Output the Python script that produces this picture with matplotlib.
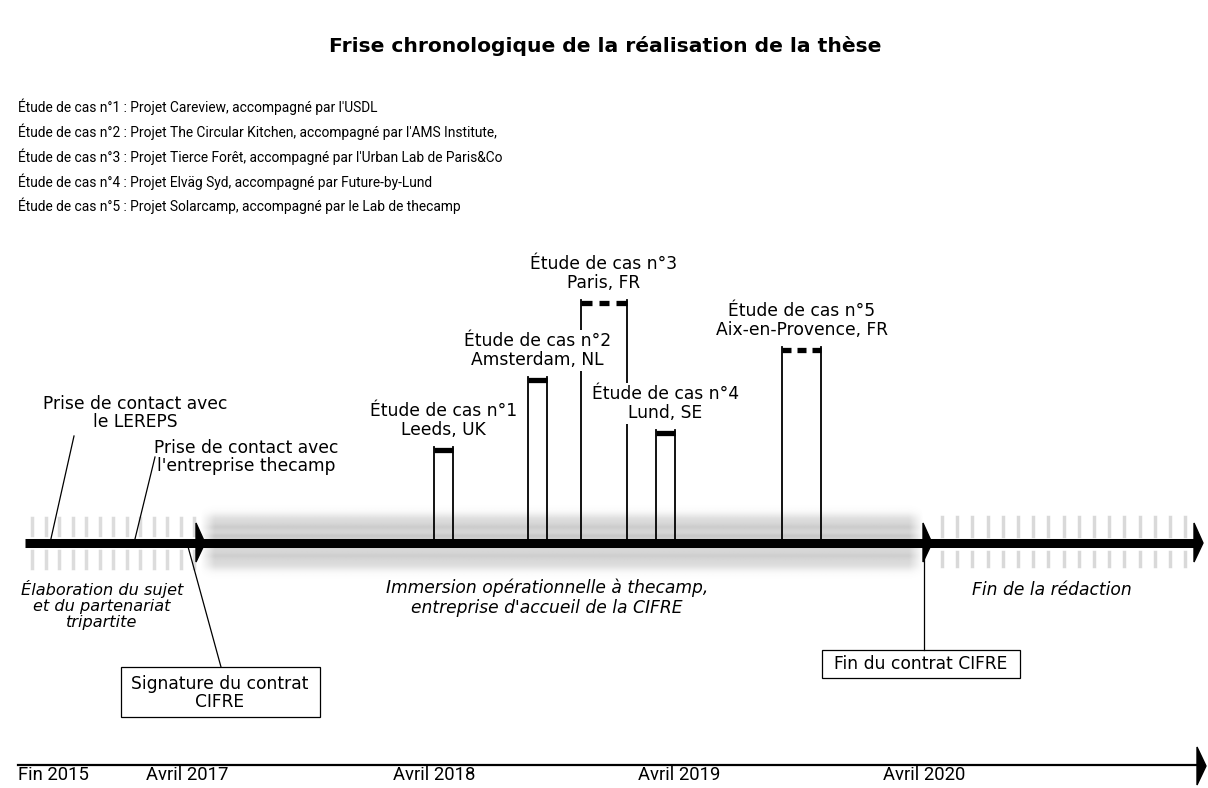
import os
import numpy as np
import matplotlib
matplotlib.use("Agg")
import matplotlib.pyplot as plt
from matplotlib.patches import Polygon, Rectangle
from matplotlib.font_manager import FontProperties

# ---------------- data ----------------
title = "Frise chronologique de la réalisation de la thèse"
case_numbers = [1, 2, 3, 4, 5]
case_projects = [
    "Projet Careview, accompagné par l'USDL",
    "Projet The Circular Kitchen, accompagné par l'AMS Institute,",
    "Projet Tierce Forêt, accompagné par l'Urban Lab de Paris&Co",
    "Projet Elväg Syd, accompagné par Future-by-Lund",
    "Projet Solarcamp, accompagné par le Lab de thecamp",
]
case_places = ["Leeds, UK", "Amsterdam, NL", "Paris, FR", "Lund, SE", "Aix-en-Provence, FR"]
case_start = [434, 528, 581, 656, 782]      # timeline position (schematic units)
case_end = [453, 547, 627, 675, 821]
case_height = [96, 166, 243, 113, 196]      # schematic height above the timeline
case_ongoing = [False, False, True, False, True]

tick_labels = ["Fin 2015", "Avril 2017", "Avril 2018", "Avril 2019", "Avril 2020"]
tick_pos = [18, 146, 393, 638, 883]

phase_bounds = [25, 205, 932, 1203]
phase_labels = [
    "Élaboration du sujet\net du partenariat\ntripartite",
    "Immersion opérationnelle à thecamp,\nentreprise d'accueil de la CIFRE",
    "Fin de la rédaction",
]

# ---------------- fonts ----------------
list_fp = FontProperties(family="Roboto", size=9.9)
tick_fp = FontProperties(family="Roboto", size=13.3)
main_font = "DejaVu Sans"

fig = plt.figure(figsize=(12.08, 7.88), dpi=100)
ax = fig.add_axes([0, 0, 1, 1])
ax.set_xlim(0, 1208)
ax.set_ylim(788, 0)
ax.axis("off")

Y0 = 543  # timeline baseline
FS = 12.3

# title
ax.text(605, 46, title, ha="center", va="center", fontsize=14.6, fontweight="bold",
        family=main_font)

# list of case studies
for i, (n, p) in enumerate(zip(case_numbers, case_projects)):
    ax.text(18, 107 + i * 24.8, f"Étude de cas n°{n} : {p}", ha="left", va="center",
            fontproperties=list_fp)

# gray blurred band of the CIFRE immersion
x0, x1 = phase_bounds[1] - 5, phase_bounds[2] - 8
h, w = 90, 500
yy = np.linspace(500, 585, h)
plateau = 1 / (1 + np.exp(-(yy - 515) / 2.5)) * 1 / (1 + np.exp((yy - 569) / 2.5))
stripes = 0.25 * np.exp(-((yy - 527) / 3) ** 2) + 0.35 * np.exp(-((yy - 536) / 2.5) ** 2) \
    + 0.2 * np.exp(-((yy - 556) / 3) ** 2)
prof = 0.26 * plateau + 0.28 * stripes
xx = np.linspace(x0, x1, w)
hprof = np.clip((xx - x0) / 14, 0, 1) * np.clip((x1 - xx) / 14, 0, 1)
alpha = np.clip(np.outer(prof, hprof), 0, 0.8)
img = np.zeros((h, w, 4))
img[..., :3] = 0.4
img[..., 3] = alpha
ax.imshow(img, extent=[x0, x1, 585, 500], aspect="auto", zorder=1, interpolation="bilinear")

# faded marks on first and last phases
for xs in np.arange(32, 195, 13.5):
    ax.plot([xs, xs], [518, 535], color="#dcdcdc", lw=2.5, zorder=1)
    ax.plot([xs, xs], [551, 568], color="#dcdcdc", lw=2.5, zorder=1)
for xs in np.arange(942, 1188, 15.2):
    ax.plot([xs, xs], [517, 536], color="#d9d9d9", lw=2.5, zorder=1)
    ax.plot([xs, xs], [552, 566], color="#d9d9d9", lw=2.5, zorder=1)

# main timeline
ax.plot([phase_bounds[0], phase_bounds[3] - 8], [Y0, Y0], color="black", lw=6.5,
        solid_capstyle="butt", zorder=3)
for xb in phase_bounds[1:]:
    ax.add_patch(Polygon([[xb - 9, Y0 - 20], [xb, Y0], [xb - 9, Y0 + 19]],
                         closed=True, color="black", zorder=3))

# case studies
for n, xs, xe, hgt, ong, place in zip(case_numbers, case_start, case_end, case_height,
                                       case_ongoing, case_places):
    top = Y0 - hgt
    ax.plot([xs, xs], [Y0, top], color="black", lw=1.3, zorder=2)
    ax.plot([xe, xe], [Y0, top], color="black", lw=1.3, zorder=2)
    if ong:
        wd = xe - xs
        d, g = wd * 11 / 47, wd * 7 / 47
        for k in range(3):
            a = xs + k * (d + g)
            ax.plot([a, a + d], [top + 2.5, top + 2.5], color="black", lw=3.8,
                    solid_capstyle="butt", zorder=4)
    else:
        ax.plot([xs, xe], [top + 2.5, top + 2.5], color="black", lw=3.8,
                solid_capstyle="butt", zorder=4)
    ax.text((xs + xe) / 2, top - 8, f"Étude de cas n°{n}\n{place}", ha="center",
            va="bottom", fontsize=FS, family=main_font, linespacing=1.05, zorder=5,
            bbox=dict(facecolor="white", edgecolor="none", pad=1.5))

# annotations above timeline
ax.plot([74, 50], [436, Y0], color="black", lw=0.9, zorder=2)
ax.text(135, 413, "Prise de contact avec\nle LEREPS", ha="center", va="center",
        fontsize=FS, family=main_font, linespacing=1.05)
ax.plot([155, 134], [457, Y0], color="black", lw=0.9, zorder=2)
ax.text(246, 457, "Prise de contact avec\nl'entreprise thecamp", ha="center", va="center",
        fontsize=FS, family=main_font, linespacing=1.05)

# phase labels
ax.text(102, 605, phase_labels[0], ha="center", va="center", fontsize=11.6,
        style="italic", family=main_font, linespacing=1.05)
ax.text(547, 598, phase_labels[1], ha="center", va="center", fontsize=FS,
        style="italic", family=main_font, linespacing=1.12)
ax.text(1052, 590, phase_labels[2], ha="center", va="center", fontsize=FS,
        style="italic", family=main_font)

# contract boxes
ax.plot([187, 221], [Y0, 667], color="black", lw=0.9, zorder=2)
ax.add_patch(Rectangle((121, 667), 199, 50, fill=False, edgecolor="black", lw=0.9))
ax.text(220, 693, "Signature du contrat\nCIFRE", ha="center", va="center",
        fontsize=FS, family=main_font, linespacing=1.05)
ax.plot([924, 924], [Y0, 650], color="black", lw=0.9, zorder=2)
ax.add_patch(Rectangle((822, 650), 198, 28, fill=False, edgecolor="black", lw=0.9))
ax.text(921, 664, "Fin du contrat CIFRE", ha="center", va="center",
        fontsize=FS, family=main_font)

# bottom date axis
ax.plot([18, 1198], [765, 765], color="black", lw=1.6, zorder=2)
ax.add_patch(Polygon([[1197, 747], [1206, 766], [1197, 785]], closed=True, color="black"))
for xp, lab in zip(tick_pos, tick_labels):
    ax.text(xp, 775, lab, ha="left", va="center", fontproperties=tick_fp)

fig.savefig("out.png", dpi=100)
